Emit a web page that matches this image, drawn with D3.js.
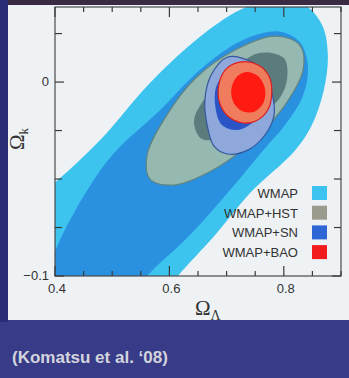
<!doctype html>
<html>
  <head>
    <script src="https://d3js.org/d3.v7.min.js"></script>
    <style>
      body { margin: 0; background: #383c88; }
      svg { display: block; }
    </style>
  </head>
  <body>
    <svg class="chart" width="349" height="378"></svg>
    <script>
      // contour outlines, [Omega_Lambda, Omega_k]
      var wmap95 = [[0.339,-0.066],[0.405,-0.0505],[0.479,-0.0299],[0.566,-0.0005],[0.653,0.0232],
                    [0.723,0.0371],[0.785,0.0433],[0.837,0.0397],[0.867,0.0294],[0.877,0.0139],
                    [0.870,-0.0041],[0.849,-0.0222],[0.820,-0.0351],[0.741,-0.0572],[0.680,-0.0789],
                    [0.615,-0.1],[0.584,-0.1124],[0.479,-0.128],[0.339,-0.1124]];
      var wmap68 = [[0.374,-0.1124],[0.405,-0.084],[0.493,-0.0402],[0.584,-0.0144],[0.653,0.0062],
                    [0.718,0.0201],[0.764,0.0253],[0.797,0.0258],[0.828,0.0206],[0.842,0.0088],
                    [0.834,-0.0067],[0.802,-0.0222],[0.764,-0.0351],[0.706,-0.0557],[0.636,-0.0789],
                    [0.561,-0.1],[0.514,-0.1175]];
      var hst95 = [[0.828,0.0191],[0.834,0.0067],[0.802,-0.0119],[0.744,-0.0309],[0.673,-0.0459],
                   [0.608,-0.0531],[0.566,-0.05],[0.561,-0.0376],[0.591,-0.0191],[0.646,0.0021],
                   [0.718,0.017],[0.785,0.0237]];
      var hst68 = [[0.800,0.0124],[0.806,0.0021],[0.793,-0.0082],[0.758,-0.0175],[0.702,-0.0278],
                   [0.657,-0.0294],[0.643,-0.0206],[0.660,-0.0093],[0.702,0.0036],[0.755,0.0149]];
      var sn95 = [[0.702,0.0129],[0.737,0.0113],[0.765,0.0052],[0.779,-0.0052],[0.783,-0.017],
                  [0.767,-0.0273],[0.737,-0.0351],[0.702,-0.0371],[0.678,-0.033],[0.666,-0.0222],
                  [0.662,-0.0093],[0.673,0.0036]];
      var sn68 = [[0.680,-0.0119],[0.683,-0.0015],[0.706,0.0062],[0.741,0.0082],[0.764,0.0021],
                  [0.767,-0.0093],[0.750,-0.0196],[0.720,-0.0247],[0.692,-0.0222]];
      var bao95 = [[0.723,0.0103],[0.755,0.0088],[0.774,0.0031],[0.779,-0.0052],[0.772,-0.0144],
                   [0.751,-0.0201],[0.729,-0.0211],[0.702,-0.0175],[0.687,-0.0098],[0.687,-0.0005],
                   [0.699,0.0067]];
      var bao68 = [[0.734,0.0052],[0.755,0.0031],[0.767,-0.0031],[0.765,-0.0103],[0.751,-0.0149],
                   [0.732,-0.0155],[0.715,-0.0119],[0.708,-0.0052],[0.716,0.0021]];

      var legendLabels = ["WMAP", "WMAP+HST", "WMAP+SN", "WMAP+BAO"];
      var legendColors = ["#3ec2ef", "#9a9b8c", "#2e66d6", "#f21c1c"];

      var xTickValues = [0.4,0.45,0.5,0.55,0.6,0.65,0.7,0.75,0.8,0.85,0.9];
      var xLabelValues = [0.4, 0.6, 0.8];
      var yTickValues = [-0.1,-0.075,-0.05,-0.025,0,0.025];
      var yLabelValues = [-0.1, 0];

      var pLeft = 55, pRight = 341, pTop = 7, pBottom = 276;
      var x = d3.scaleLinear().domain([0.4,0.9]).range([pLeft,pRight]);
      var y = d3.scaleLinear().domain([-0.1,0.0387]).range([pBottom,pTop]);

      var svg = d3.select("svg");

      // slide background
      svg.append("rect").attr("x",0).attr("y",0).attr("width",349).attr("height",378).attr("fill","#383c88");
      svg.append("rect").attr("x",0).attr("y",0).attr("width",349).attr("height",5).attr("fill","#3a2a44");
      svg.append("rect").attr("x",0).attr("y",0).attr("width",8).attr("height",322).attr("fill","#2a2c76");
      svg.append("rect").attr("x",8).attr("y",5).attr("width",341).attr("height",315).attr("fill","#eef2f4");

      svg.append("defs").append("clipPath").attr("id","plotclip")
        .append("rect").attr("x",pLeft).attr("y",pTop).attr("width",pRight-pLeft).attr("height",pBottom-pTop);

      var line = d3.line()
        .x(function(d){return x(d[0]);})
        .y(function(d){return y(d[1]);})
        .curve(d3.curveCatmullRomClosed);

      var g = svg.append("g").attr("clip-path","url(#plotclip)");
      var contours = [
        {pts: wmap95, fill: "#3cc4ef", stroke: "none"},
        {pts: wmap68, fill: "#2a90e0", stroke: "none"},
        {pts: hst95, fill: "#95b9b0", stroke: "#5f8582"},
        {pts: hst68, fill: "#5a7c7c", stroke: "none"},
        {pts: sn95, fill: "#8ea8dc", stroke: "#34579c"},
        {pts: sn68, fill: "#2b55c6", stroke: "none"},
        {pts: bao95, fill: "#ef7c5c", stroke: "#dc1e1e"},
        {pts: bao68, fill: "#ff1a12", stroke: "none"}
      ];
      g.selectAll("path").data(contours).enter().append("path")
        .attr("d", function(d){return line(d.pts);})
        .attr("fill", function(d){return d.fill;})
        .attr("stroke", function(d){return d.stroke;})
        .attr("stroke-width", 1.2);

      // frame and inward ticks
      svg.append("rect").attr("x",pLeft).attr("y",pTop).attr("width",pRight-pLeft).attr("height",pBottom-pTop)
        .attr("fill","none").attr("stroke","#4a4a4a").attr("stroke-width",1.2);

      function tickLen(v, labels, big, small) {
        return labels.some(function(l){return Math.abs(l-v) < 1e-9;}) ? big : small;
      }
      var ticks = svg.append("g").attr("stroke","#3a3a3a").attr("stroke-width",1.2);
      xTickValues.forEach(function(v){
        var L = tickLen(v, xLabelValues, 10, 5);
        ticks.append("line").attr("x1",x(v)).attr("x2",x(v)).attr("y1",pBottom).attr("y2",pBottom-L);
        ticks.append("line").attr("x1",x(v)).attr("x2",x(v)).attr("y1",pTop).attr("y2",pTop+L);
      });
      yTickValues.forEach(function(v){
        var L = tickLen(v, yLabelValues, 9, 7);
        ticks.append("line").attr("x1",pLeft).attr("x2",pLeft+L).attr("y1",y(v)).attr("y2",y(v));
        ticks.append("line").attr("x1",pRight).attr("x2",pRight-L).attr("y1",y(v)).attr("y2",y(v));
      });

      var font = "Liberation Sans, Arial, sans-serif";
      svg.selectAll(".xlab").data(xLabelValues).enter().append("text")
        .attr("x", function(d){return x(d)+2;})
        .attr("y", 293)
        .attr("text-anchor","middle")
        .attr("font-family",font).attr("font-size",13).attr("fill","#333")
        .text(function(d){return d3.format(".1f")(d);});
      svg.selectAll(".ylab").data(yLabelValues).enter().append("text")
        .attr("x", 49)
        .attr("y", function(d){return y(d)+4;})
        .attr("text-anchor","end")
        .attr("font-family",font).attr("font-size",13).attr("fill","#333")
        .text(function(d){return d === 0 ? "0" : d3.format(".1f")(d);});

      // axis titles
      var xt = svg.append("text").attr("x",195).attr("y",315)
        .attr("font-family","Liberation Serif, Times New Roman, serif").attr("font-size",21).attr("fill","#333");
      xt.append("tspan").text("Ω");
      xt.append("tspan").attr("dy",5).attr("font-size",14).text("Λ");

      var yt = svg.append("text").attr("transform","translate(24,150) rotate(-90)")
        .attr("font-family","Liberation Serif, Times New Roman, serif").attr("font-size",21).attr("fill","#333");
      yt.append("tspan").text("Ω");
      yt.append("tspan").attr("dy",4).attr("font-size",13).text("k");

      // legend
      var lg = svg.append("g");
      legendLabels.forEach(function(lab, i){
        var cy = 193 + i*19.7;
        lg.append("text").attr("x",298).attr("y",cy+5)
          .attr("text-anchor","end").attr("font-family",font).attr("font-size",13).attr("fill","#333")
          .text(lab);
        lg.append("rect").attr("x",312).attr("y",cy-7).attr("width",15).attr("height",14)
          .attr("fill",legendColors[i]);
      });

      // citation on the slide
      svg.append("text").attr("x",12).attr("y",363)
        .attr("font-family",font).attr("font-size",17).attr("font-weight","bold").attr("fill","#d3d4dc")
        .text("(Komatsu et al. \u201808)");
    </script>
  </body>
</html>
